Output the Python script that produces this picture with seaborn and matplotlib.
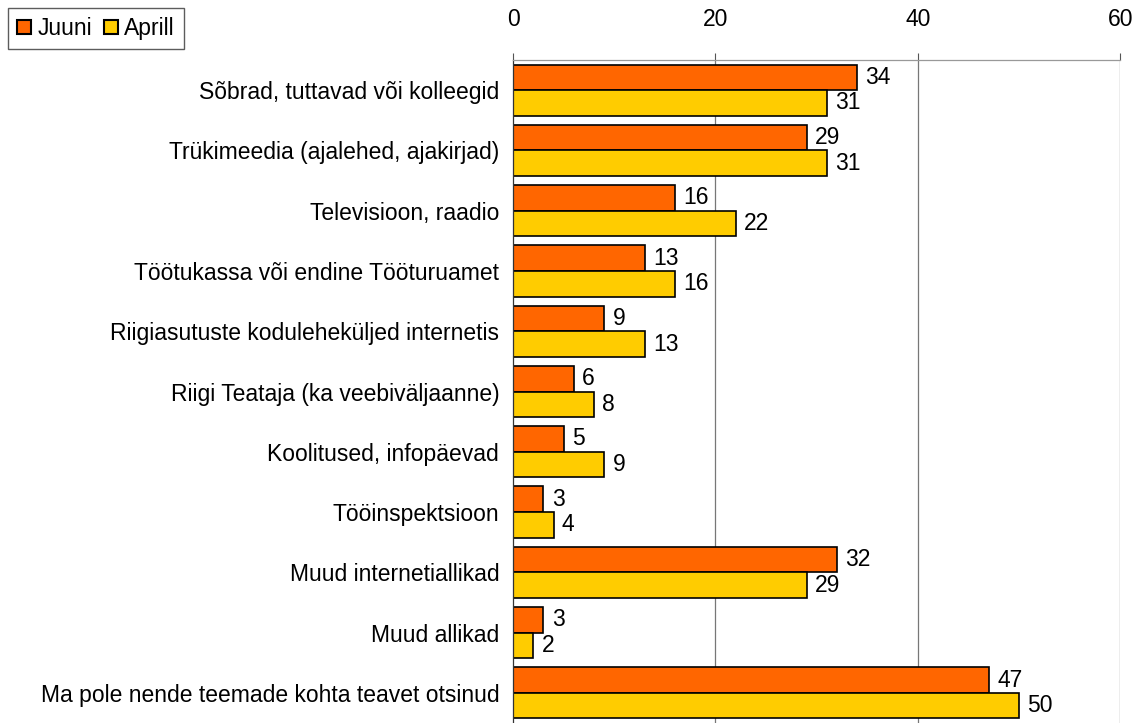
import numpy as np
import pandas as pd
import matplotlib
matplotlib.use("Agg")
import matplotlib.pyplot as plt
import seaborn as sns
from matplotlib.patches import Patch

categories = [
    "Sõbrad, tuttavad või kolleegid",
    "Trükimeedia (ajalehed, ajakirjad)",
    "Televisioon, raadio",
    "Töötukassa või endine Tööturuamet",
    "Riigiasutuste koduleheküljed internetis",
    "Riigi Teataja (ka veebiväljaanne)",
    "Koolitused, infopäevad",
    "Tööinspektsioon",
    "Muud internetiallikad",
    "Muud allikad",
    "Ma pole nende teemade kohta teavet otsinud",
]
juuni = [34, 29, 16, 13, 9, 6, 5, 3, 32, 3, 47]
aprill = [31, 31, 22, 16, 13, 8, 9, 4, 29, 2, 50]
series = ["Juuni", "Aprill"]
colors = ["#FF6600", "#FFCC00"]
xticks = [0, 20, 40, 60]

sns.set_style("white")
plt.rcParams["font.family"] = ["Liberation Sans", "DejaVu Sans"]
plt.rcParams["text.color"] = "black"
plt.rcParams["xtick.color"] = "black"
plt.rcParams["ytick.color"] = "black"
FS = 16.5

df = pd.DataFrame({
    "cat": categories * 2,
    "val": juuni + aprill,
    "ser": [series[0]] * len(categories) + [series[1]] * len(categories),
})

fig = plt.figure(figsize=(11.35, 7.23), dpi=100)
ax = fig.add_axes([0.452, 0.0, 0.535, 0.917])

sns.barplot(data=df, y="cat", x="val", hue="ser", hue_order=series,
            palette=colors, saturation=1, orient="h", width=0.85,
            edgecolor="black", linewidth=1.2, ax=ax, legend=False,
            order=categories)

for cont in ax.containers:
    ax.bar_label(cont, fmt="%d", padding=6, fontsize=FS, color="black")

ax.set_xlim(0, 60)
ax.set_ylim(len(categories) - 0.5, -0.5)
ax.set_xticks(xticks)
ax.xaxis.tick_top()
ax.tick_params(axis="x", which="major", length=5, width=0.8, color="#555555",
               labelsize=FS, pad=16, direction="out", labelcolor="black")
ax.set_yticks(range(len(categories)))
ax.set_yticklabels(categories)
ax.tick_params(axis="y", which="major", length=0, labelsize=FS, pad=10,
               labelcolor="black")
ax.set_yticks(np.arange(-0.5, len(categories)), minor=True)
ax.tick_params(axis="y", which="minor", length=7, width=0.8, color="#333333")
ax.set_xlabel("")
ax.set_ylabel("")

for x in xticks[1:]:
    ax.axvline(x, color="#777777", linewidth=0.9, zorder=0)

for s in ["right", "bottom"]:
    ax.spines[s].set_visible(False)
ax.spines["left"].set_color("#333333")
ax.spines["left"].set_linewidth(0.9)
ax.spines["top"].set_color("#999999")
ax.spines["top"].set_linewidth(0.9)

handles = [Patch(facecolor=c, edgecolor="black", linewidth=1.5, label=s)
           for c, s in zip(colors, series)]
leg = fig.legend(handles=handles, loc="upper left", bbox_to_anchor=(0.007, 0.989),
                 borderaxespad=0, ncol=2, fontsize=FS, frameon=True, fancybox=False,
                 handlelength=0.6, handleheight=0.6, handletextpad=0.3,
                 columnspacing=0.5, borderpad=0.4, shadow=False)
leg.get_frame().set_edgecolor("#333333")
leg.get_frame().set_linewidth(1.0)

fig.savefig("out.png", dpi=100)
